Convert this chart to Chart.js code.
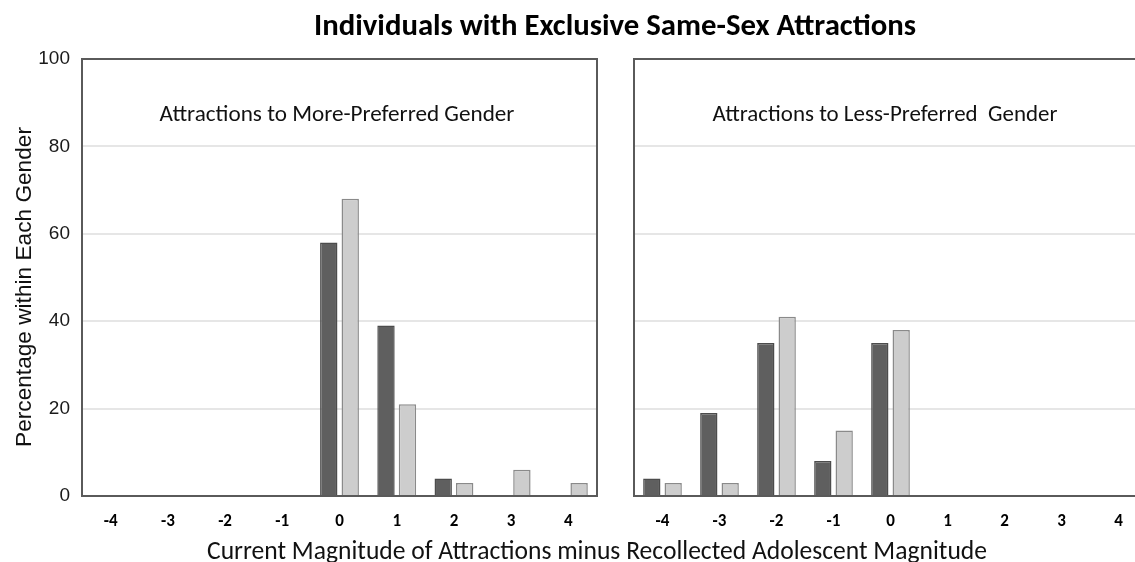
<!DOCTYPE html>
<html>
<head>
<meta charset="utf-8">
<title>Individuals with Exclusive Same-Sex Attractions</title>
<script src="https://cdn.jsdelivr.net/npm/chart.js@4.4.1/dist/chart.umd.min.js"></script>
<style>
  html, body { margin: 0; padding: 0; background: #ffffff; width: 1135px; height: 562px; overflow: hidden; }
  #wrap { position: relative; width: 1135px; height: 562px; overflow: hidden; }
  .panel { position: absolute; top: 0; height: 562px; }
  #leftBox { left: 0; width: 1135px; }
  #rightBox { left: 610px; width: 560px; }
</style>
</head>
<body>
<div id="wrap">
  <div class="panel" id="leftBox"><canvas id="leftChart"></canvas></div>
  <div class="panel" id="rightBox"><canvas id="rightChart"></canvas></div>
</div>
<script>
// Difference categories (current minus recollected adolescent magnitude)
const categories = ['-4', '-3', '-2', '-1', '0', '1', '2', '3', '4'];

// Attractions to the more-preferred gender (percent within each gender)
const moreDark  = [0, 0, 0, 0, 58, 39, 4, 0, 0];
const moreLight = [0, 0, 0, 0, 68, 21, 3, 6, 3];

// Attractions to the less-preferred gender (percent within each gender)
const lessDark  = [4, 19, 35, 8, 35, 0, 0, 0, 0];
const lessLight = [3, 3, 41, 15, 38, 0, 0, 0, 0];

const yTicks = [0, 20, 40, 60, 80, 100];

const mainTitle = 'Individuals with Exclusive Same-Sex Attractions';
const xTitle = 'Current Magnitude of Attractions minus Recollected Adolescent Magnitude';
const yTitle = 'Percentage within Each Gender';
const leftSubtitle = 'Attractions to More-Preferred Gender';
const rightSubtitle = 'Attractions to Less-Preferred  Gender';

const HUMANIST = 'Carlito, Lato, "Open Sans", sans-serif';
const ARIAL = '"Liberation Sans", Arial, sans-serif';
const ARIAL_NARROW = '"Liberation Sans Narrow", "Arial Narrow", "Liberation Sans", sans-serif';

// Set a font whose size makes the text span the requested width
function fitFont(ctx, text, weight, family, base, width) {
  ctx.font = weight + ' ' + base + 'px ' + family;
  const w = ctx.measureText(text).width;
  const size = base * width / w;
  ctx.font = weight + ' ' + size.toFixed(2) + 'px ' + family;
}

function makeDatasets(dark, light) {
  return [
    { data: dark, backgroundColor: '#5f5f5f', borderColor: '#4c4c4c', borderWidth: 1.5,
      categoryPercentage: 0.75, barPercentage: 0.81 },
    { data: light, backgroundColor: '#cdcdcd', borderColor: '#8a8a8a', borderWidth: 1.5,
      categoryPercentage: 0.75, barPercentage: 0.81 }
  ];
}

// Frame around the plotting area plus the in-panel heading
const framePlugin = {
  id: 'panelFrame',
  afterDatasetsDraw(chart, args, opts) {
    const { ctx, chartArea: a } = chart;
    ctx.save();
    ctx.strokeStyle = '#5a5a5a';
    ctx.lineWidth = 2;
    ctx.strokeRect(a.left, a.top, a.right - a.left, a.bottom - a.top);
    ctx.fillStyle = '#111111';
    ctx.textAlign = 'center';
    ctx.textBaseline = 'alphabetic';
    fitFont(ctx, opts.text, 'normal', HUMANIST, 20, opts.width);
    ctx.fillText(opts.text, a.left + opts.offset, a.top + 62);
    ctx.restore();
  }
};

// Shared titles drawn across the full-width left canvas
const titlesPlugin = {
  id: 'sharedTitles',
  afterDraw(chart) {
    const { ctx } = chart;
    ctx.save();
    ctx.fillStyle = '#000000';
    ctx.textAlign = 'center';
    ctx.textBaseline = 'alphabetic';
    fitFont(ctx, mainTitle, 'bold', HUMANIST, 26, 602);
    ctx.fillText(mainTitle, 615, 34.5);
    ctx.fillStyle = '#111111';
    fitFont(ctx, xTitle, 'normal', HUMANIST, 22, 780);
    ctx.fillText(xTitle, 597, 559);
    ctx.translate(31, 287);
    ctx.rotate(-Math.PI / 2);
    fitFont(ctx, yTitle, 'normal', ARIAL, 20, 320);
    ctx.fillText(yTitle, 0, 0);
    ctx.restore();
  }
};

function xScale() {
  return {
    type: 'category',
    grid: { display: false, drawTicks: false },
    border: { display: false },
    ticks: {
      color: '#000000',
      padding: 16,
      font: { family: HUMANIST, size: 17, weight: 'bold' },
      maxRotation: 0,
      autoSkip: false
    },
    afterFit(scale) { scale.height = 66; }
  };
}

function yScale(showLabels, width) {
  return {
    min: 0,
    max: 100,
    afterBuildTicks(scale) { scale.ticks = yTicks.map(v => ({ value: v })); },
    grid: { color: '#e6e6e6', lineWidth: 2, drawTicks: false },
    border: { display: false },
    ticks: {
      display: showLabels,
      color: '#1a1a1a',
      padding: 12,
      font: { family: ARIAL_NARROW, size: 19 }
    },
    afterFit(scale) { scale.width = width; }
  };
}

function baseOptions(padding, showLabels, yWidth, subtitle, offset, subWidth) {
  return {
    responsive: false,
    animation: false,
    events: [],
    layout: { padding: padding },
    plugins: {
      legend: { display: false },
      title: { display: false },
      tooltip: { enabled: false },
      panelFrame: { text: subtitle, offset: offset, width: subWidth }
    },
    scales: { x: xScale(), y: yScale(showLabels, yWidth) }
  };
}

const leftCanvas = document.getElementById('leftChart');
leftCanvas.width = 1135; leftCanvas.height = 562;
new Chart(leftCanvas, {
  type: 'bar',
  data: { labels: categories, datasets: makeDatasets(moreDark, moreLight) },
  options: baseOptions({ top: 59, left: 0, right: 1135 - 597, bottom: 0 }, true, 82,
                       leftSubtitle, 255, 355),
  plugins: [framePlugin, titlesPlugin]
});

const rightCanvas = document.getElementById('rightChart');
rightCanvas.width = 560; rightCanvas.height = 562;
new Chart(rightCanvas, {
  type: 'bar',
  data: { labels: categories, datasets: makeDatasets(lessDark, lessLight) },
  options: baseOptions({ top: 59, left: 24, right: 560 - 537, bottom: 0 }, false, 0,
                       rightSubtitle, 251, 345),
  plugins: [framePlugin]
});
</script>
</body>
</html>
